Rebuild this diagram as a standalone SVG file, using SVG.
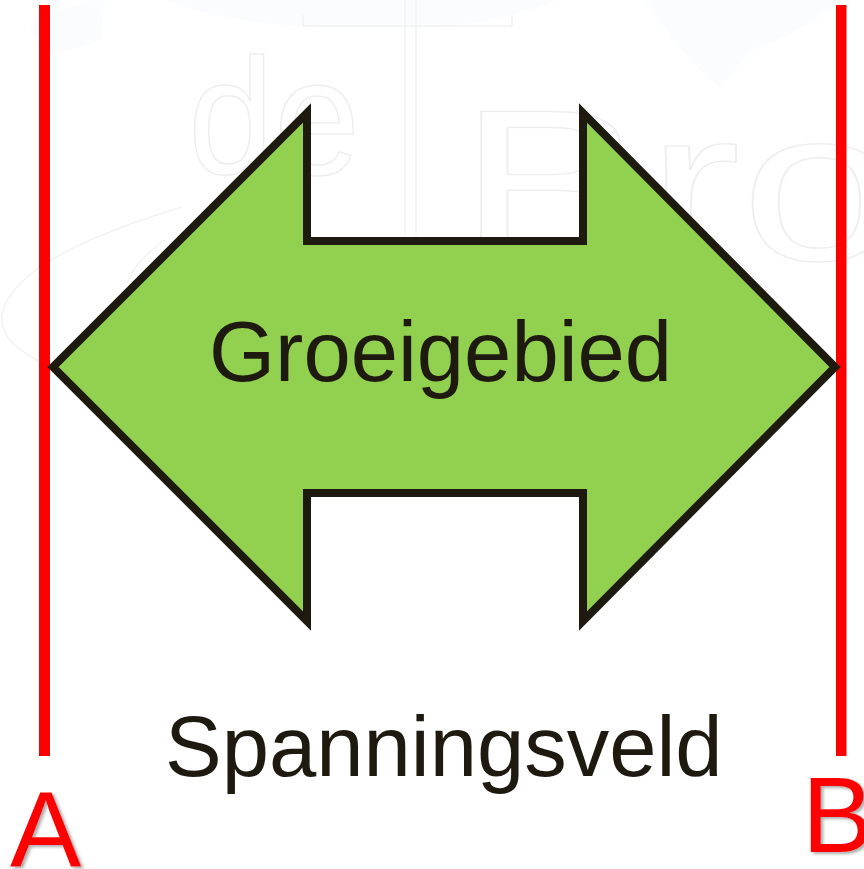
<svg xmlns="http://www.w3.org/2000/svg" width="864" height="869" viewBox="0 0 864 869">
<defs>
<filter id="soft" x="-20%" y="-20%" width="150%" height="150%"><feDropShadow dx="2.500" dy="2" stdDeviation="1.500" flood-color="#777777" flood-opacity=".6"/></filter>
</defs>
<style>
.sans{font-family:"Liberation Sans",Arial,sans-serif}
.dark{fill:#1f1a10;font-size:85px}
.red{fill:#ff0000;font-size:107px;filter:url(#soft)}
.wm{fill:none;stroke:#f2f2f2;stroke-width:1.500}
.wt{fill:#fff;stroke:#eeeeee;stroke-width:1.500;font-family:"Liberation Sans",Arial,sans-serif}
.rule{fill:#ff0000}
</style>
<rect width="864" height="869" fill="#ffffff"/>
<g id="watermark">
<path d="M30 25 Q60 5 105 0 L100 40 Q70 55 40 50Z M165 0 H560 Q500 22 430 28 H330 Q230 25 165 0Z M645 0 H840 Q800 35 755 48 L720 88 Q680 55 645 0Z" fill="#fbfcfe"/>
<path class="wm" d="M405 0V235 M416 0V235 M303 15V26H512V15"/>
<text class="wt" x="188" y="174" font-size="165" textLength="172" lengthAdjust="spacingAndGlyphs">de</text>
<text class="wt" x="458" y="260" font-size="216" textLength="440" lengthAdjust="spacingAndGlyphs">Bro</text>
<path class="wm" d="M182 207 C90 235 10 270 2 315 C0 340 20 350 45 365 M165 240 C148 252 132 268 127 283"/>
</g>
<g id="line-a"><rect class="rule" x="39" y="5" width="11" height="751"/></g>
<g id="line-b"><rect class="rule" x="836" y="5" width="10.500" height="751"/></g>
<g id="groeigebied">
<path d="M307 113V241H583V113L835 367L583 621V493H307V621L53 367Z" fill="#92d050" stroke="#1f1a10" stroke-width="8" stroke-miterlimit="10"/>
<text class="sans dark" x="209" y="381">Groeigebied</text>
</g>
<g id="spanningsveld"><text class="sans dark" x="165" y="776">Spanningsveld</text></g>
<g id="label-a"><text class="sans red" x="10" y="867">A</text></g>
<g id="label-b"><text class="sans red" x="802" y="852">B</text></g>
</svg>
